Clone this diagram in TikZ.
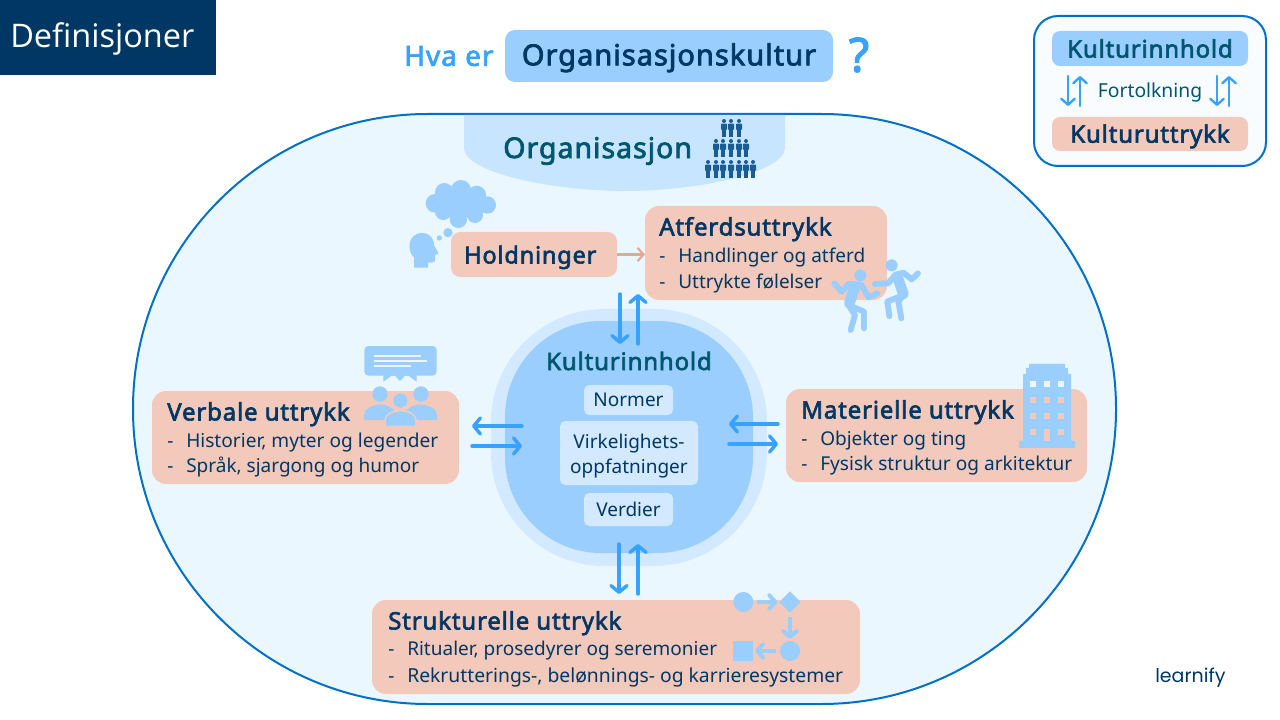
\documentclass[tikz,border=0pt]{standalone}
\usepackage{fontspec}
\setmainfont{Noto Sans}[BoldFont={Noto Sans},BoldFeatures={FakeBold=2.6,LetterSpace=3.5}]
\newfontfamily\titlefont{Open Sans}
\newfontfamily\logofont{Poppins}
\usetikzlibrary{arrows.meta}
\definecolor{navy}{HTML}{003764}
\definecolor{teal2}{HTML}{00566E}
\definecolor{rim}{HTML}{0070C8}
\definecolor{pale}{HTML}{EBF7FF}
\definecolor{seg}{HTML}{C8E5FF}
\definecolor{sky}{HTML}{99CEFF}
\definecolor{pink2}{HTML}{F2C9BB}
\definecolor{lt}{HTML}{D2E9FF}
\definecolor{arr}{HTML}{37A2FF}
\definecolor{salmon}{HTML}{E8A593}
\definecolor{crowd}{HTML}{1A5C96}
\newcommand{\fsz}[1]{\pgfmathsetmacro{\fszv}{#1*0.75}\fontsize{\fszv}{\fszv}\selectfont}
% \boxn{style}{name}{x1}{y1}{x2}{y2}{text}
\newcommand{\boxn}[7]{%
 \pgfmathsetmacro{\bw}{(#5-#3)*0.75}\pgfmathsetmacro{\bh}{(#6-#4)*0.75}%
 \node[#1,anchor=north west,inner sep=0pt,outer sep=0pt,minimum width=\bw pt,minimum height=\bh pt] (#2) at (#3,#4) {#7};}
\newcommand{\crowdman}[2]{%
 \fill[crowd] (#1,#2+2) circle[radius=2];
 \fill[crowd,rounded corners=0.6pt] (#1-3,#2+4.6) rectangle (#1+3,#2+11);
 \fill[crowd] (#1-2.1,#2+10) rectangle (#1-0.3,#2+18.5);
 \fill[crowd] (#1+0.3,#2+10) rectangle (#1+2.1,#2+18.5);}
\tikzset{
 x=0.75pt,y=-0.75pt,
 pinkbox/.style={fill=pink2,rounded corners=10.5pt},
 pinkbox small/.style={fill=pink2,rounded corners=7pt},
 skybox/.style={fill=sky,rounded corners=6pt},
 ltbox/.style={fill=lt,rounded corners=4pt,text=navy,font=\fsz{19}},
 heading/.style={anchor=base west,inner sep=0pt,text=navy,font=\bfseries,yshift=-5.6pt},
 item/.style={anchor=base west,inner sep=0pt,text=navy,yshift=-5pt},
 dbl/.style={draw=arr,line width=2.6pt,line cap=round,-{Straight Barb[length=5pt,width=12pt,line width=2.6pt,round]}},
 thin dbl/.style={draw=arr,line width=1.8pt,line cap=round,-{Straight Barb[length=4.5pt,width=10pt,line width=1.8pt,round]}},
 flowarrow/.style={draw=sky,line width=3pt,-{Straight Barb[length=4.5pt,width=10pt,line width=3pt,round]}},
 limb/.style={draw=sky,line width=4.4pt,line cap=round,line join=round},
}
\begin{document}
\begin{tikzpicture}
\path[use as bounding box,fill=white] (0,0) rectangle (1280,720);
% header
\boxn{fill=navy}{defbox}{0}{0}{216}{75}{}
\node[anchor=west,inner sep=0pt,text=white] (deftext) at (10,39) {\titlefont\fsz{32.5}Definisjoner};
\node[anchor=west,inner sep=0pt,text=arr] (hva) at (404,56) {\fsz{28}\bfseries Hva er};
\boxn{fill=sky,rounded corners=7.5pt}{title}{505}{30}{833}{82}{\textcolor{navy}{\raisebox{-7pt}[0pt][0pt]{\fsz{29}\bfseries Organisasjonskultur}}}
\node[inner sep=0pt,text=arr] (qm) at (859,55) {\fsz{47}\bfseries ?};
% outer stadium
\boxn{fill=pale,draw=rim,line width=1.5pt,rounded corners=221pt}{outer}{133}{114}{1116}{704}{}
% organisation segment
\fill[seg] (464,115) -- (464,148) .. controls (464,172) and (550,191) .. (625,191) .. controls (700,191) and (785,172) .. (785,148) -- (785,115) -- cycle;
\node[heading,text=teal2,yshift=-1.2pt] (org) at (503,149) {\fsz{28.5}Organisasjon};
\foreach \x in {724,731,739} {\crowdman{\x}{119}}
\foreach \x in {716,723,731,739,746} {\crowdman{\x}{139}}
\foreach \x in {708,716,723,731,739,746,753} {\crowdman{\x}{160}}
% centre
\boxn{fill=lt,rounded corners=85pt}{coreouter}{491}{309}{767}{566}{}
\boxn{fill=sky,rounded corners=72pt}{core}{505}{321}{753}{553}{}
\node[inner sep=0pt,text=teal2] (kinn) at (629,361) {\fsz{24}\bfseries Kulturinnhold};
\boxn{ltbox}{normer}{584}{385}{673}{415}{Normer}
\boxn{ltbox}{virk}{560}{421}{698}{485}{}
\node[inner sep=0pt,text=navy,anchor=base] (virk1) at (629,448) {\fsz{19}Virkelighets-};
\node[inner sep=0pt,text=navy,anchor=base] (virk2) at (629,473) {\fsz{19}oppfatninger};
\boxn{ltbox}{verdier}{584}{493}{673}{526}{Verdier}
% Holdninger
\boxn{pinkbox small}{hold}{451}{232}{617}{277}{}
\node[heading] (holdt) at (464,256) {\fsz{23.5}Holdninger};
% Atferd
\boxn{pinkbox}{atf}{645}{206}{887}{300}{}
\node[heading] (atft) at (659,228) {\fsz{24}Atferdsuttrykk};
\node[item] (atfd1) at (659,256) {\fsz{19}-};
\node[item] (atf1) at (678,256) {\fsz{19}Handlinger og atferd};
\node[item] (atfd2) at (659,282) {\fsz{19}-};
\node[item] (atf2) at (678,282) {\fsz{19}Uttrykte følelser};
\draw[salmon,line width=1.6pt,-{Straight Barb[length=4.5pt,width=10pt,line width=1.6pt]}] (hold.east) -- (atf.west |- hold.east);
% Verbale
\boxn{pinkbox}{verb}{152}{391}{459}{484}{}
\node[heading] (verbt) at (167,413) {\fsz{24}Verbale uttrykk};
\node[item] (verbd1) at (167,441) {\fsz{19}-};
\node[item] (verb1) at (186,441) {\fsz{19.1}Historier, myter og legender};
\node[item] (verbd2) at (167,466) {\fsz{19}-};
\node[item] (verb2) at (186,466) {\fsz{19}Språk, sjargong og humor};
% Materielle
\boxn{pinkbox}{mat}{786}{389}{1087}{482}{}
\node[heading] (matt) at (801,411) {\fsz{24}Materielle uttrykk};
\node[item] (matd1) at (801,439) {\fsz{19}-};
\node[item] (mat1) at (820,439) {\fsz{19}Objekter og ting};
\node[item] (matd2) at (801,464) {\fsz{19}-};
\node[item] (mat2) at (820,464) {\fsz{19.1}Fysisk struktur og arkitektur};
% Strukturelle
\boxn{pinkbox}{strk}{372}{600}{860}{694}{}
\node[heading] (strt) at (388,622) {\fsz{24}Strukturelle uttrykk};
\node[item] (strd1) at (388,649) {\fsz{19}-};
\node[item] (str1) at (407,649) {\fsz{19}Ritualer, prosedyrer og seremonier};
\node[item] (strd2) at (388,676) {\fsz{19}-};
\node[item] (str2) at (407,676) {\fsz{19.3}Rekrutterings-, belønnings- og karrieresystemer};
% double arrows
\coordinate (ta) at (620,294); \coordinate (tb) at (620,344);
\coordinate (tc) at (638,344); \coordinate (td) at (638,294);
\draw[dbl] (ta) -- (tb); \draw[dbl] (tc) -- (td);
\coordinate (la) at (522,426); \coordinate (lb) at (472,426);
\coordinate (lc) at (472,446); \coordinate (ld) at (522,446);
\draw[dbl] (la) -- (lb); \draw[dbl] (lc) -- (ld);
\coordinate (ra) at (778,424); \coordinate (rb) at (729,424);
\coordinate (rc) at (729,444); \coordinate (rd) at (778,444);
\draw[dbl] (ra) -- (rb); \draw[dbl] (rc) -- (rd);
\coordinate (ba) at (619,544); \coordinate (bb) at (619,594);
\coordinate (bc) at (638,594); \coordinate (bd) at (638,544);
\draw[dbl] (ba) -- (bb); \draw[dbl] (bc) -- (bd);
% legend
\boxn{fill=pale!35!white,draw=rim,line width=1.5pt,rounded corners=18pt}{leg}{1034}{16}{1266}{166}{}
\boxn{skybox}{legk}{1052}{31}{1248}{66}{\textcolor{teal2}{\fsz{24}\bfseries Kulturinnhold}}
\boxn{pinkbox small,rounded corners=6pt}{legu}{1052}{117}{1248}{151}{\textcolor{navy}{\raisebox{-6.5pt}[0pt][0pt]{\fsz{24}\bfseries Kulturuttrykk}}}
\node[inner sep=0pt,text=teal2] (fort) at (1150,92) {\fsz{19.3}Fortolkning};
\coordinate (a1) at (1068,76); \coordinate (a2) at (1068,106);
\coordinate (a3) at (1080,106); \coordinate (a4) at (1080,76);
\coordinate (a5) at (1217,76); \coordinate (a6) at (1217,106);
\coordinate (a7) at (1229,106); \coordinate (a8) at (1229,76);
\draw[thin dbl] (a1) -- (a2); \draw[thin dbl] (a3) -- (a4);
\draw[thin dbl] (a5) -- (a6); \draw[thin dbl] (a7) -- (a8);
% head and cloud
\begin{scope}[shift={(400,110)},scale=1/3]
 \fill[sky] (105,280) circle[radius=28] (133,247) circle[radius=28] (183,240) circle[radius=30]
  (230,255) circle[radius=28] (262,285) circle[radius=26] (225,315) circle[radius=24]
  (175,328) circle[radius=26] (130,305) circle[radius=25] (180,285) circle[radius=42] (222,285) circle[radius=30] (140,280) circle[radius=30];
 \fill[sky] (144,368) circle[radius=14] (118,384) circle[radius=8];
 \fill[sky] (42,473) -- (42,442) .. controls (20,425) and (22,369) .. (66,369)
   .. controls (95,369) and (103,395) .. (103,408) -- (116,430) -- (105,435) -- (105,450)
   .. controls (105,458) and (95,459) .. (84,457) -- (84,473) -- cycle;
\end{scope}
% dancers
\begin{scope}[shift={(780,200)},scale=1/3]
 \fill[sky] (241,226) circle[radius=18] (335,196) circle[radius=18];
 \draw[limb] (163,250) -- (185,275) -- (205,252) -- (245,255) -- (265,292) -- (292,280);
 \draw[limb,line width=8pt] (225,260) -- (208,310);
 \draw[limb] (205,315) -- (252,335) -- (252,385);
 \draw[limb] (205,315) -- (225,345) -- (212,390);
 \draw[limb] (414,220) -- (395,238) -- (370,218) -- (345,225) -- (325,250) -- (285,252);
 \draw[limb,line width=8pt] (352,230) -- (370,282);
 \draw[limb] (370,285) -- (322,305) -- (328,348);
 \draw[limb] (370,285) -- (355,305) -- (364,355);
\end{scope}
% building
\begin{scope}[shift={(780,200)},scale=1/3]
 \fill[sky] (717,744) -- (717,723) -- (729,723) -- (729,522) -- (738,522) -- (738,504) -- (747,504) -- (747,492) -- (855,492) -- (855,504) -- (864,504) -- (864,522) -- (873,522) -- (873,723) -- (885,723) -- (885,744) -- cycle;
 \foreach \x in {750,792,834} {
  \fill[pale] (\x,543) rectangle +(18,18);
  \fill[pink2] (\x,591) rectangle +(18,18);
  \fill[pink2] (\x,639) rectangle +(18,18);}
 \fill[pink2] (750,687) rectangle +(18,18);
 \fill[pink2] (834,687) rectangle +(18,18);
 \fill[pink2] (792,687) rectangle (810,723);
\end{scope}
% speech bubble and people
\begin{scope}[shift={(340,340)},scale=1/3]
 \fill[sky,rounded corners=3pt] (73,18) rectangle (290,107);
 \fill[sky] (130,100) -- (130,125) -- (155,107) -- (165,107) -- (180,123) -- (195,107) -- (205,107) -- (230,125) -- (230,100) -- cycle;
 \draw[pale,line width=1.3pt] (102,48) -- (243,48) (102,63) -- (262,63) (102,78) -- (213,78);
 \fill[sky] (120,162) circle[radius=23] (243,162) circle[radius=23];
 \fill[sky] (72,240) -- (72,225) .. controls (72,205) and (100,194) .. (122,194) .. controls (145,194) and (160,205) .. (165,215) -- (160,240) -- cycle;
 \fill[sky] (291,240) -- (291,225) .. controls (291,205) and (263,194) .. (241,194) .. controls (218,194) and (203,205) .. (198,215) -- (203,240) -- cycle;
 \filldraw[fill=sky,draw=pink2,line width=1.2pt] (181,182) circle[radius=24];
 \filldraw[fill=sky,draw=pink2,line width=1.2pt] (135,259) -- (135,240) .. controls (135,222) and (160,212) .. (181,212) .. controls (203,212) and (228,222) .. (228,240) -- (228,259) -- cycle;
\end{scope}
% flow chart
\begin{scope}[shift={(700,580)},scale=1/3]
 \fill[sky] (130,66) circle[radius=30];
 \fill[sky] (270,34) -- (302,66) -- (270,98) -- (238,66) -- cycle;
 \fill[sky] (270,213) circle[radius=30];
 \fill[sky] (100,183) rectangle (160,243);
 \coordinate (f1) at (172,66); \coordinate (f2) at (232,66);
 \coordinate (f3) at (270,112); \coordinate (f4) at (270,177);
 \coordinate (f5) at (228,213); \coordinate (f6) at (165,213);
 \draw[flowarrow] (f1) -- (f2);
 \draw[flowarrow] (f3) -- (f4);
 \draw[flowarrow] (f5) -- (f6);
\end{scope}
% logo
\node[anchor=west,inner sep=0pt,text=navy] (logo) at (1155,678) {\logofont\fsz{19}learnify};
\end{tikzpicture}
\end{document}
